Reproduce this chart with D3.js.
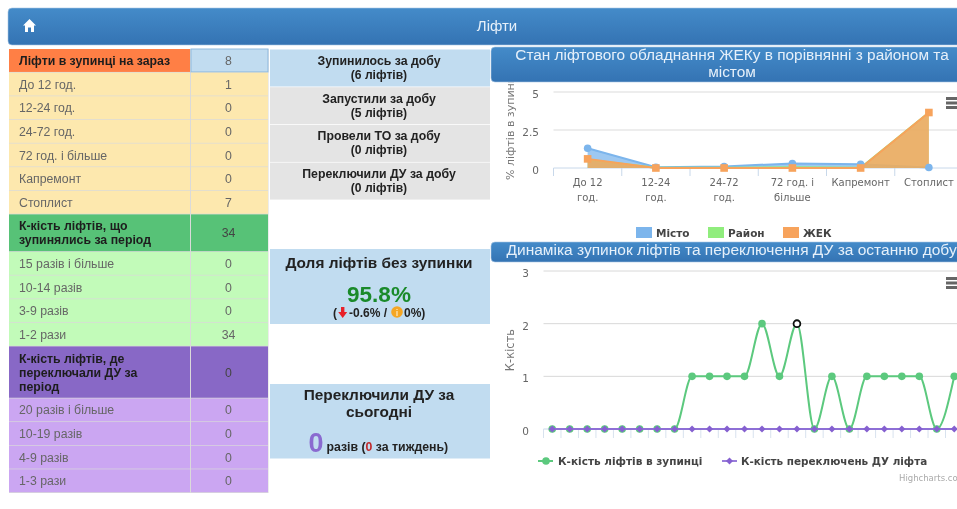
<!DOCTYPE html>
<html><head><meta charset="utf-8">
<script src="https://cdnjs.cloudflare.com/ajax/libs/d3/7.8.5/d3.min.js"></script>
<style>
html,body{margin:0;padding:0;background:#fff;overflow:hidden}
svg{display:block;font-family:"Liberation Sans",Arial,sans-serif;filter:blur(0.5px)}
.ch{font-family:"DejaVu Sans",sans-serif}
</style></head><body><svg id="c" width="957" height="509"></svg>
<script>
// ---------- data ----------
const pageTitle = "Ліфти";
const tableLabels = [["Ліфти в зупинці на зараз"],["До 12 год."],["12-24 год."],["24-72 год."],["72 год. і більше"],["Капремонт"],["Стоплист"],
 ["К-кість ліфтів, що","зупинялись за період"],["15 разів і більше"],["10-14 разів"],["3-9 разів"],["1-2 рази"],
 ["К-кість ліфтів, де","переключали ДУ за","період"],["20 разів і більше"],["10-19 разів"],["4-9 разів"],["1-3 рази"]];
const tableValues = [8,1,0,0,0,0,7,34,0,0,0,34,0,0,0,0,0];
const tableKinds = ["oh","o","o","o","o","o","o","gh","g","g","g","g","ph","p","p","p","p"];
const dayStats = [["Зупинилось за добу","(6 ліфтів)"],["Запустили за добу","(5 ліфтів)"],["Провели ТО за добу","(0 ліфтів)"],["Переключили ДУ за добу","(0 ліфтів)"]];
const chart1Title = ["Стан ліфтового обладнання ЖЕКу в порівнянні з районом та","містом"];
const chart1Cats = [["До 12","год."],["12-24","год."],["24-72","год."],["72 год. і","більше"],["Капремонт"],["Стоплист"]];
const chart1Ticks = [0,2.5,5];
const mistoValues = [1.3,0.05,0.1,0.3,0.25,0.03];
const raionValues = [0.55,0.02,0.02,0.05,0.02,3.65];
const zhekValues = [0.6,0,0,0,0,3.65];
const chart2Title = "Динаміка зупинок ліфтів та переключення ДУ за останню добу";
const hours = [0,1,2,3,4,5,6,7,8,9,10,11,12,13,14,15,16,17,18,19,20,21,22,23];
const stopValues = [0,0,0,0,0,0,0,0,1,1,1,1,2,1,2,0,1,0,1,1,1,1,0,1];
const switchValues = [0,0,0,0,0,0,0,0,0,0,0,0,0,0,0,0,0,0,0,0,0,0,0,0];
const chart2Ticks = [0,1,2,3];

// ---------- styles ----------
const fills = {oh:"#ff7f45",o:"#fde8ae",gh:"#57c277",g:"#c2fbb9",ph:"#8868c6",p:"#cba6f2"};
const svg = d3.select("#c");
const defs = svg.append("defs");
const grad = defs.append("linearGradient").attr("id","bar").attr("x1",0).attr("x2",0).attr("y1",0).attr("y2",1);
grad.append("stop").attr("offset",0).attr("stop-color","#448bc9");
grad.append("stop").attr("offset",1).attr("stop-color","#3473b3");

function titleBar(x,y,w,h){svg.append("rect").attr("x",x).attr("y",y).attr("width",w+10).attr("height",h).attr("rx",4).attr("fill","url(#bar)").attr("stroke","#a9c8e4").attr("stroke-width",.6);}

// page header
titleBar(8,8,949,37);
svg.append("path").attr("d","M29.5 19 L36 25.5 H34 V32 H31 V27.5 H28 V32 H25 V25.5 H23 Z").attr("fill","#fff");
svg.append("text").attr("x",497).attr("y",31).attr("text-anchor","middle").attr("fill","#e6f0fa").attr("font-size",15).text(pageTitle);

// left table
svg.append("rect").attr("x",9).attr("y",49).attr("width",259.5).attr("height",444).attr("fill","#dadada");
let ty = 49;
tableLabels.forEach((lines,i)=>{
  const k = tableKinds[i], head = k.endsWith("h");
  const h = lines.length===1 ? 23.63 : lines.length===2 ? 37.5 : 52;
  const g = svg.append("g");
  g.append("rect").attr("x",9).attr("y",ty).attr("width",181).attr("height",h-.7).attr("fill",fills[k]);
  g.append("rect").attr("x",191).attr("y",ty).attr("width",77).attr("height",h-.7).attr("fill",i===0?"#c1dcf0":fills[k])
    .attr("stroke",i===0?"#8fb9de":"none");
  const lh = 14, y0 = ty + h/2 - (lines.length-1)*lh/2 + 4.2;
  lines.forEach((t,j)=>g.append("text").attr("x",19).attr("y",y0+j*lh).attr("font-size",12.3)
    .attr("font-weight",head?"bold":"normal").attr("fill",head?"#1d1d1d":"#666").text(t));
  g.append("text").attr("x",228.5).attr("y",ty+h/2+4.2).attr("text-anchor","middle").attr("font-size",12.3)
    .attr("fill",head&&i>0?"#444":"#666").text(tableValues[i]);
  ty += h;
});

// middle column
const box=(y,h,c)=>svg.append("rect").attr("x",270).attr("y",y).attr("width",220).attr("height",h).attr("fill",c);
const mid=(t,y,s,w,c)=>svg.append("text").attr("x",379).attr("y",y).attr("text-anchor","middle").attr("font-size",s).attr("font-weight",w||"bold").attr("fill",c||"#222").text(t);
dayStats.forEach((d,i)=>{
  const y=49.5+i*37.7;
  box(y,37,i===0?"#c1dcf0":"#e4e4e4");
  mid(d[0],y+15.5,12.3); mid(d[1],y+29.5,12.1);
});
box(249,75,"#c1dcf0");
mid("Доля ліфтів без зупинки",268,15.4);
mid("95.8%",302,22.5,"bold","#1a8a2a");
const sm=svg.append("text").attr("x",333).attr("y",317).attr("font-size",12).attr("font-weight","bold").attr("fill","#222");
sm.append("tspan").text("(");
sm.append("tspan").attr("x",349).text("-0.6% /");
svg.append("text").attr("x",404).attr("y",317).attr("font-size",12).attr("font-weight","bold").attr("fill","#222").text("0%)");
svg.append("path").attr("d","M341 307 h3.4 v5 h2.8 l-4.5 6 l-4.5 -6 h2.8 Z").attr("fill","#e8202a");
svg.append("circle").attr("cx",397).attr("cy",312).attr("r",5.8).attr("fill","#f5a623");
svg.append("text").attr("x",397).attr("y",315.5).attr("text-anchor","middle").attr("font-size",9).attr("font-weight","bold").attr("fill","#fde3b0").text("i");
box(384,74.5,"#c1dcf0");
mid("Переключили ДУ за",400,15.4); mid("сьогодні",417,15.4);
svg.append("text").attr("x",316).attr("y",452).attr("text-anchor","middle").attr("font-size",27).attr("font-weight","bold").attr("fill","#8a6ad0").text("0");
const dz=svg.append("text").attr("x",326.5).attr("y",451).attr("font-size",12.3).attr("font-weight","bold").attr("fill","#222");
dz.append("tspan").text("разів (");
dz.append("tspan").attr("fill","#c0282a").text("0");
dz.append("tspan").text(" за тиждень)");

// ---------- chart 1 ----------
const x1 = d3.scaleBand().domain(d3.range(chart1Cats.length)).range([553.5,963]);
const y1 = d3.scaleLinear().domain([0,5]).range([168,92]);
const c1 = svg.append("g").attr("class","ch");
c1.selectAll("line.g").data(chart1Ticks.filter(v=>v>0)).join("line").attr("x1",553.5).attr("x2",957)
  .attr("y1",y1).attr("y2",y1).attr("stroke","#dcdcdc").attr("stroke-width",1.2);
c1.append("line").attr("x1",553.5).attr("x2",957).attr("y1",168).attr("y2",168).attr("stroke","#c8d8ea");
c1.selectAll("line.t").data(d3.range(0,7)).join("line").attr("x1",i=>553.5+i*x1.step()).attr("x2",i=>553.5+i*x1.step())
  .attr("y1",168).attr("y2",176).attr("stroke","#c8d8ea");
c1.selectAll("text.y").data(chart1Ticks).join("text").attr("x",539).attr("y",d=>y1(d)+6).attr("text-anchor","end")
  .attr("font-size",10.5).attr("fill","#666").text(d=>d);
chart1Cats.forEach((ls,i)=>ls.forEach((t,j)=>c1.append("text").attr("x",x1(i)+x1.bandwidth()/2).attr("y",186+j*14.5)
  .attr("text-anchor","middle").attr("font-size",10).attr("fill","#666").text(t)));
const s1 = [{v:mistoValues,c:"#7cb5ec",o:.75},{v:raionValues,c:"#90ed7d",o:.6},{v:zhekValues,c:"#f7a35c",o:.8}];
const cx1 = i=>x1(i)+x1.bandwidth()/2;
s1.forEach(s=>{
  const a = d3.area().x((d,i)=>cx1(i)).y0(168).y1(d=>y1(d));
  const l = d3.line().x((d,i)=>cx1(i)).y(d=>y1(d));
  c1.append("path").attr("d",a(s.v)).attr("fill",s.c).attr("fill-opacity",s.o);
  c1.append("path").attr("d",l(s.v)).attr("fill","none").attr("stroke",s.c).attr("stroke-width",2);
});
c1.selectAll("circle.m").data(mistoValues).join("circle").attr("cx",(d,i)=>cx1(i)).attr("cy",d=>y1(d)).attr("r",3.8).attr("fill","#7cb5ec");
c1.selectAll("rect.m").data(zhekValues).join("rect").attr("x",(d,i)=>cx1(i)-3.8).attr("y",d=>y1(d)-3.8).attr("width",7.6).attr("height",7.6).attr("fill","#f7a35c");
[["Місто","#7cb5ec",636,656],["Район","#90ed7d",708,728],["ЖЕК","#f7a35c",783,803]].forEach(l=>{
  c1.append("rect").attr("x",l[2]).attr("y",227).attr("width",16).attr("height",11).attr("fill",l[1]);
  c1.append("text").attr("x",l[3]).attr("y",237).attr("font-size",10.5).attr("font-weight","bold").attr("fill","#444").text(l[0]);
});
c1.append("text").attr("transform","translate(514,180) rotate(-90)").attr("font-size",11).attr("fill","#777").text("% ліфтів в зупинці");
function burger(g,x,y){[0,4.5,9].forEach(d=>g.append("rect").attr("x",x).attr("y",y+d).attr("width",12).attr("height",3).attr("fill","#666"));}
burger(c1,946,97);

// title bars over the chart
titleBar(491,47,466,35);
chart1Title.forEach((t,i)=>svg.append("text").attr("x",732).attr("y",60+i*17).attr("text-anchor","middle").attr("font-size",15.4).attr("fill","#e6f0fa").text(t));

// ---------- chart 2 ----------
const x2 = d3.scaleBand().domain(hours).range([543.5,963]);
const y2 = d3.scaleLinear().domain([0,3]).range([429,271]);
const cx2 = i=>x2(i)+x2.bandwidth()/2;
const c2 = svg.append("g").attr("class","ch");
c2.selectAll("line.g").data(chart2Ticks.filter(v=>v>0)).join("line").attr("x1",543.5).attr("x2",957)
  .attr("y1",y2).attr("y2",y2).attr("stroke","#d8d8d8").attr("stroke-width",1);
c2.append("line").attr("x1",543.5).attr("x2",957).attr("y1",429).attr("y2",429).attr("stroke","#c8d8ea");
c2.selectAll("line.t").data(d3.range(0,24)).join("line").attr("x1",i=>543.5+i*x2.step()).attr("x2",i=>543.5+i*x2.step())
  .attr("y1",429).attr("y2",438).attr("stroke","#d8e2ee");
c2.selectAll("text.y").data(chart2Ticks).join("text").attr("x",529).attr("y",d=>y2(d)+6).attr("text-anchor","end")
  .attr("font-size",10.5).attr("fill","#666").text(d=>d);
const ln2 = d3.line().x((d,i)=>cx2(i)).y(d=>y2(d)).curve(d3.curveMonotoneX);
c2.append("path").attr("d",ln2(stopValues)).attr("fill","none").attr("stroke","#5cc97e").attr("stroke-width",2);
c2.selectAll("circle.s").data(stopValues).join("circle").attr("cx",(d,i)=>cx2(i)).attr("cy",d=>y2(d)).attr("r",3.8).attr("fill","#5cc97e");
c2.append("path").attr("d",ln2(switchValues)).attr("fill","none").attr("stroke","#8e6fd6").attr("stroke-width",1.8);
c2.selectAll("path.d").data(switchValues).join("path").attr("transform",(d,i)=>`translate(${cx2(i)},${y2(d)})`)
  .attr("d",d3.symbol(d3.symbolDiamond2,32)).attr("fill","#8560d0");
c2.append("circle").attr("cx",cx2(14)).attr("cy",y2(stopValues[14])).attr("r",3.4).attr("fill","#fff").attr("stroke","#111").attr("stroke-width",1.8);
c2.append("text").attr("transform","translate(514,350) rotate(-90)").attr("text-anchor","middle").attr("font-size",11.5).attr("fill","#777").text("К-кість");
c2.append("line").attr("x1",538).attr("x2",553).attr("y1",461).attr("y2",461).attr("stroke","#5cc97e").attr("stroke-width",2);
c2.append("circle").attr("cx",546).attr("cy",461).attr("r",3.8).attr("fill","#5cc97e");
c2.append("text").attr("x",558).attr("y",465).attr("font-size",10.5).attr("font-weight","bold").attr("fill","#444").text("К-кість ліфтів в зупинці");
c2.append("line").attr("x1",722).attr("x2",737).attr("y1",461).attr("y2",461).attr("stroke","#8e6fd6").attr("stroke-width",1.8);
c2.append("path").attr("transform","translate(729.5,461)").attr("d",d3.symbol(d3.symbolDiamond2,32)).attr("fill","#8560d0");
c2.append("text").attr("x",741).attr("y",465).attr("font-size",10.4).attr("font-weight","bold").attr("fill","#444").text("К-кість переключень ДУ ліфта");
c2.append("text").attr("x",899).attr("y",481).attr("font-size",8.5).attr("fill","#aaa").text("Highcharts.com");
burger(c2,946,277);
titleBar(491,242,466,20);
svg.append("text").attr("x",506.5).attr("y",255).attr("font-size",15.5).attr("fill","#e6f0fa").text(chart2Title);
</script></body></html>
